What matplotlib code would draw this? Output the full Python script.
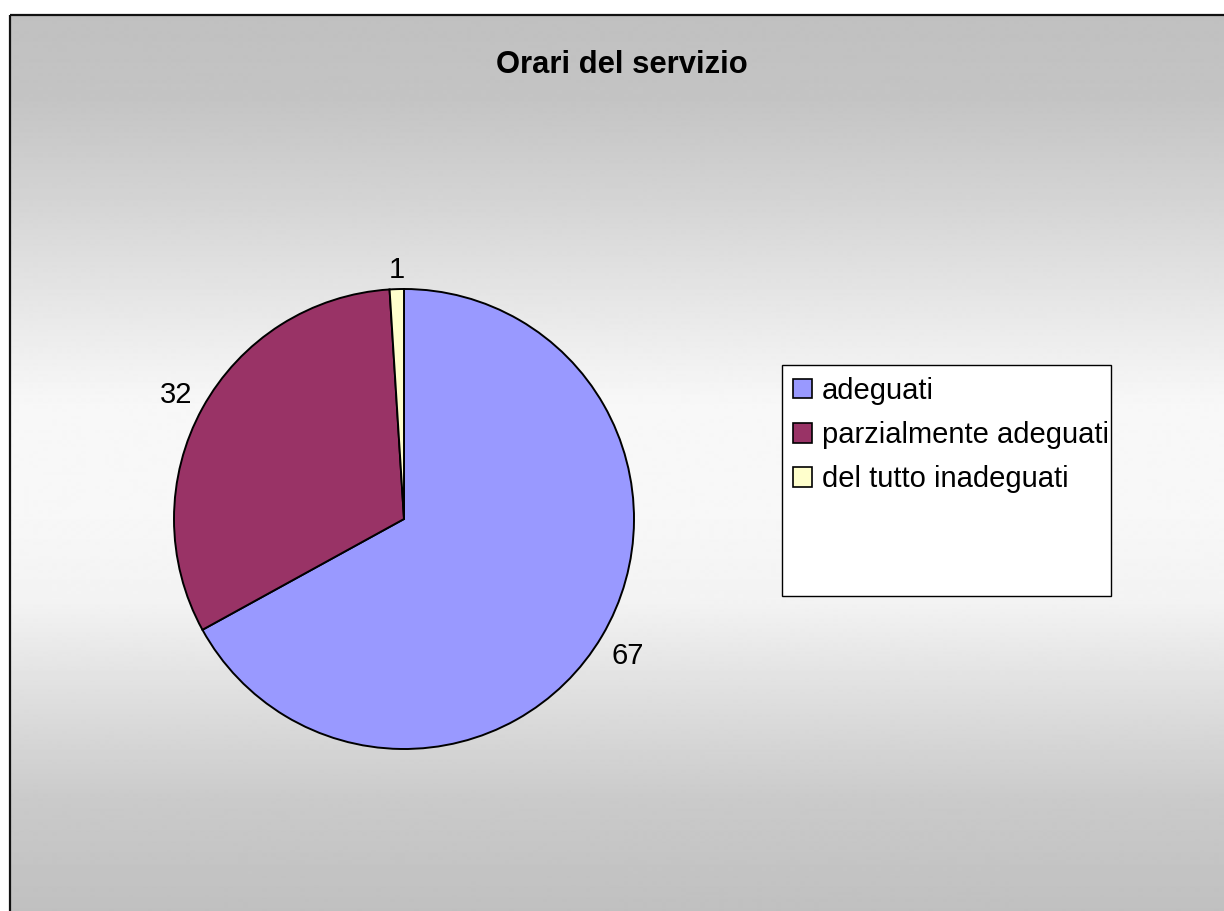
import matplotlib

matplotlib.use("Agg")
import matplotlib.pyplot as plt  # noqa: E402
import numpy as np  # noqa: E402
from matplotlib.patches import Patch, Rectangle  # noqa: E402

plt.rcParams.update({
    "font.family": ["Liberation Sans", "DejaVu Sans"],
})

# data
title = "Orari del servizio"
categories = ["adeguati", "parzialmente adeguati", "del tutto inadeguati"]
values = [67, 32, 1]
colors = ["#9999FF", "#993366", "#FFFFCC"]

W, H = 1224, 911
fig = plt.figure(figsize=(W / 100, H / 100), dpi=100)

# background: grey -> white -> grey vertical gradient inside a framed chart area
bg = fig.add_axes([0, 0, 1, 1])
bg.set_xlim(0, W)
bg.set_ylim(H, 0)
bg.axis("off")
ys = np.arange(15, H + 1)
shade = np.interp(ys, [15, 100, 200, 300, 400, 500, 600, 700, 800, 911],
                  [192, 196, 212, 230, 247, 248, 243, 222, 202, 192])
bg.imshow(shade[:, None], cmap="gray", vmin=0, vmax=255, aspect="auto",
          extent=[10, W + 5, H, 15], interpolation="bilinear")
bg.add_patch(Rectangle((10, 15), W, H, fill=False, ec="#111111", lw=1.6))

# legend box (Excel leaves empty space below the entries)
bg.add_patch(Rectangle((782, 365), 329, 231, fc="white", ec="black", lw=1.0))

fig.text(622 / W, 1 - 73 / H, title, ha="center", va="baseline",
         fontsize=22.3, fontweight="bold")

# pie
ax = fig.add_axes([(404 - 230) / W, (H - 749) / H, 460 / W, 460 / H])
wedges, texts = ax.pie(
    values, labels=[str(v) for v in values], colors=colors, startangle=90,
    counterclock=False, labeldistance=1.05,
    wedgeprops={"edgecolor": "black", "linewidth": 1.4},
    textprops={"fontsize": 21},
)
for w, t in zip(wedges, texts):
    ang = np.deg2rad((w.theta1 + w.theta2) / 2)
    c, s = np.cos(ang), np.sin(ang)
    t.set_ha("left" if c > 0.2 else ("right" if c < -0.2 else "center"))
    t.set_va("baseline" if s > 0 else "top")
ax.set_xlim(-1, 1)
ax.set_ylim(-1, 1)
ax.set_aspect("equal")
ax.axis("off")

handles = [Patch(facecolor=col, edgecolor="black", lw=1.2) for col in colors]
fig.legend(handles, categories, loc="upper left",
           bbox_to_anchor=(793 / W, 1 - 377 / H), frameon=False, fontsize=21,
           handlelength=0.65, handleheight=0.65, handletextpad=0.33,
           labelspacing=0.55, borderpad=0, borderaxespad=0)

fig.savefig("out.png", dpi=100, facecolor="white")
